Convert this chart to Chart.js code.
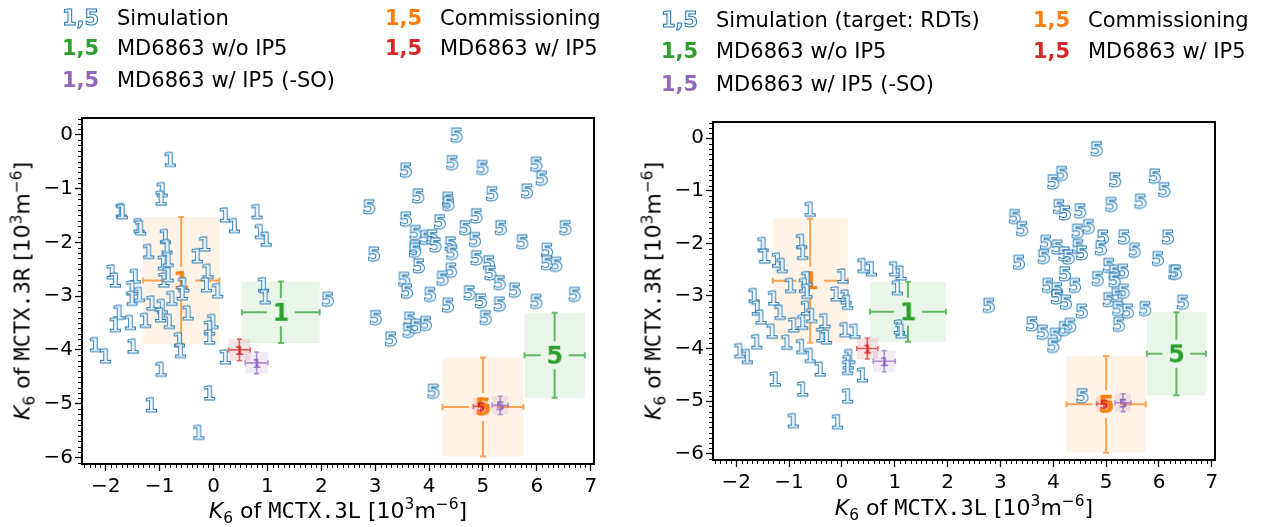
<!DOCTYPE html>
<html>
<head>
<meta charset="utf-8">
<script src="https://cdn.jsdelivr.net/npm/chart.js@4.4.0/dist/chart.umd.min.js"></script>
<style>
body { margin:0; background:#fff; width:1265px; height:527px; overflow:hidden; position:relative; font-family:"DejaVu Sans", sans-serif; color:#000; }
canvas { position:absolute; top:0; }
.item { position:absolute; white-space:nowrap; font-size:21px; line-height:24px; }
.mk { font-weight:bold; display:inline-block; width:55px; }
.sim { color:#f4f8fc; -webkit-text-stroke:1px #1f77b4; }
.xt, .yt { position:absolute; font-size:22px; white-space:nowrap; transform:translate(-50%,-50%); }
.yt { transform:translate(-50%,-50%) rotate(-90deg); }
.mono { font-family:"DejaVu Sans Mono", monospace; }
sub, sup { font-size:70%; line-height:0; }
</style>
</head>
<body>
<canvas id="left" width="632" height="527" style="left:0"></canvas>
<canvas id="right" width="633" height="527" style="left:632px"></canvas>

<!-- legends -->
<div class="item" style="left:62px;top:6px"><span class="mk sim">1,5</span>Simulation</div>
<div class="item" style="left:385px;top:6px"><span class="mk" style="color:#ff7f0e">1,5</span>Commissioning</div>
<div class="item" style="left:62px;top:36px"><span class="mk" style="color:#2ca02c">1,5</span>MD6863 w/o IP5</div>
<div class="item" style="left:385px;top:36px"><span class="mk" style="color:#d62728">1,5</span>MD6863 w/ IP5</div>
<div class="item" style="left:62px;top:68px"><span class="mk" style="color:#9467bd">1,5</span>MD6863 w/ IP5 (-SO)</div>

<div class="item" style="left:661px;top:8px"><span class="mk sim">1,5</span>Simulation (target: RDTs)</div>
<div class="item" style="left:1033px;top:8px"><span class="mk" style="color:#ff7f0e">1,5</span>Commissioning</div>
<div class="item" style="left:661px;top:39px"><span class="mk" style="color:#2ca02c">1,5</span>MD6863 w/o IP5</div>
<div class="item" style="left:1033px;top:39px"><span class="mk" style="color:#d62728">1,5</span>MD6863 w/ IP5</div>
<div class="item" style="left:661px;top:72px"><span class="mk" style="color:#9467bd">1,5</span>MD6863 w/ IP5 (-SO)</div>

<!-- axis titles -->
<div class="xt" style="left:338px;top:510px"><i>K</i><sub>6</sub> of <span class="mono">MCTX.3L</span> [10<sup>3</sup>m<sup>−6</sup>]</div>
<div class="yt" style="left:22px;top:291px"><i>K</i><sub>6</sub> of <span class="mono">MCTX.3R</span> [10<sup>3</sup>m<sup>−6</sup>]</div>
<div class="xt" style="left:964px;top:507px"><i>K</i><sub>6</sub> of <span class="mono">MCTX.3L</span> [10<sup>3</sup>m<sup>−6</sup>]</div>
<div class="yt" style="left:653px;top:291px"><i>K</i><sub>6</sub> of <span class="mono">MCTX.3R</span> [10<sup>3</sup>m<sup>−6</sup>]</div>

<script>
// axis ranges
const xRange = [-2.44, 7.06];
const yRange = [-6.12, 0.31];

// simulation, left panel
const sim1X = [-0.81,-0.96,-0.98,-1.72,-1.70,-1.39,-1.36,0.21,0.38,0.80,0.86,0.97,-1.21,-0.90,-0.87,-0.17,-0.31,-1.89,-1.83,-1.46,-1.52,-1.52,-1.38,-0.94,-0.85,-0.93,-0.85,-0.56,-0.59,-0.78,-0.11,-0.14,0.07,-1.15,-0.96,-0.99,-0.83,-0.48,-1.27,-1.76,-1.83,-1.55,-0.64,-0.62,-0.02,-0.08,-0.08,-2.20,-2.01,-1.50,-0.98,0.21,0.92,0.95,-0.08,-1.16,-0.28];
const sim1Y = [-0.46,-1.02,-1.18,-1.41,-1.43,-1.69,-1.73,-1.49,-1.69,-1.43,-1.80,-1.94,-2.17,-1.89,-2.08,-2.03,-2.25,-2.55,-2.70,-2.63,-2.85,-3.04,-2.97,-2.38,-2.32,-2.70,-2.60,-2.79,-2.94,-3.04,-2.54,-2.79,-2.90,-3.13,-3.19,-3.35,-3.47,-3.31,-3.45,-3.30,-3.53,-3.49,-3.81,-4.01,-3.47,-3.59,-3.76,-3.90,-4.11,-3.93,-4.36,-4.13,-2.79,-3.01,-4.80,-5.02,-5.53];
const sim5X = [4.51,4.43,3.57,4.99,5.99,6.09,5.82,5.17,3.80,4.35,4.36,2.89,3.57,4.20,4.88,4.67,5.33,6.53,3.75,3.94,4.06,4.12,3.74,3.74,4.40,4.43,4.85,5.73,2.98,3.81,4.41,4.25,3.54,3.59,4.02,4.88,5.11,5.14,5.31,6.19,6.19,6.36,5.59,4.75,4.96,5.31,4.35,5.99,6.70,2.12,3.01,3.64,3.62,3.76,3.94,3.29,5.05,4.08];
const sim5Y = [-0.01,-0.52,-0.66,-0.61,-0.55,-0.81,-1.05,-1.10,-1.14,-1.20,-1.28,-1.34,-1.57,-1.62,-1.51,-1.73,-1.73,-1.73,-1.82,-1.91,-1.90,-2.05,-2.10,-2.15,-2.03,-2.19,-1.95,-1.99,-2.22,-2.44,-2.52,-2.67,-2.69,-2.91,-2.97,-2.29,-2.38,-2.57,-2.75,-2.15,-2.38,-2.41,-2.89,-2.94,-3.09,-3.15,-3.17,-3.10,-2.97,-3.06,-3.40,-3.43,-3.64,-3.56,-3.51,-3.80,-3.40,-4.77];

// simulation (target: RDTs), right panel
const rdt1X = [-0.61,-0.77,-0.75,-1.50,-1.47,-1.23,-1.14,-0.98,-0.67,-0.72,-0.67,-0.68,-0.58,0.01,0.39,0.55,0.99,1.11,1.04,-0.12,0.07,0.10,-1.67,-1.61,-1.54,-1.30,-1.18,-1.33,-0.92,-0.75,-0.33,-0.39,-0.30,0.05,0.24,-1.62,-1.94,-1.80,-1.05,-0.77,-0.61,-0.42,0.14,0.11,0.10,0.38,1.08,1.11,-1.27,-0.75,0.10,-0.93,-0.09];
const rdt1Y = [-1.35,-1.96,-2.17,-2.02,-2.24,-2.32,-2.42,-2.80,-2.67,-2.80,-2.91,-3.23,-3.37,-2.62,-2.42,-2.48,-2.48,-2.56,-2.84,-2.96,-3.02,-3.12,-2.99,-3.23,-3.40,-3.04,-3.31,-3.67,-3.55,-3.50,-3.47,-3.74,-3.78,-3.64,-3.67,-3.87,-4.04,-4.15,-3.88,-3.96,-4.13,-4.39,-4.15,-4.26,-4.36,-4.50,-3.59,-3.66,-4.58,-4.77,-4.90,-5.37,-5.39];
const rdt5X = [4.82,4.16,4.00,5.17,5.92,6.10,5.10,5.65,4.11,4.22,4.51,3.27,3.41,4.46,4.67,4.94,5.34,5.54,6.17,3.86,3.82,4.08,4.21,4.29,4.47,4.54,4.90,5.98,3.35,4.22,5.05,5.16,5.32,5.16,4.84,6.29,6.32,3.90,4.07,4.41,4.07,4.24,5.05,5.21,5.33,5.23,5.41,5.74,6.45,4.54,2.78,3.60,3.80,4.04,4.00,4.21,4.32,5.24,4.55];
const rdt5Y = [-0.20,-0.67,-0.83,-0.79,-0.72,-0.98,-1.26,-1.20,-1.30,-1.42,-1.38,-1.49,-1.72,-1.77,-1.68,-1.88,-1.88,-2.13,-1.88,-1.98,-2.25,-2.07,-2.20,-2.26,-2.06,-2.18,-2.09,-2.29,-2.36,-2.58,-2.42,-2.55,-2.53,-2.70,-2.67,-2.55,-2.55,-2.80,-2.88,-2.80,-3.02,-3.12,-3.07,-2.99,-2.91,-3.24,-3.29,-3.24,-3.12,-3.29,-3.18,-3.53,-3.69,-3.75,-3.94,-3.62,-3.56,-3.54,-4.90];

// measurements: [MCTX1, MCTX5]
const commX = [-0.60, 5.00], commY = [-2.71, -5.06], commXErr = [0.71, 0.75], commYErr = [1.18, 0.92];
const woX = [1.25, 6.33], woY = [-3.30, -4.10], woXErr = [0.72, 0.56], woYErr = [0.57, 0.79];
const wX = [0.48, 4.96], wY = [-4.00, -5.05], wXErr = [0.20, 0.14], wYErr = [0.20, 0.15];
const soX = [0.80, 5.32], soY = [-4.24, -5.03], soXErr = [0.21, 0.15], soYErr = [0.20, 0.17];

const C = { blue:'#1f77b4', orange:'#ff7f0e', green:'#2ca02c', red:'#d62728', purple:'#9467bd' };

function glyph(ch, size, bold, fill, stroke, lw) {
  const c = document.createElement('canvas');
  c.width = Math.ceil(size * 1.2); c.height = Math.ceil(size * 1.2);
  const g = c.getContext('2d');
  g.font = (bold ? 'bold ' : '') + size + 'px "DejaVu Sans"';
  g.textAlign = 'center';
  g.textBaseline = 'alphabetic';
  const y = c.height / 2 + size * 0.364;
  g.fillStyle = fill;
  g.fillText(ch, c.width / 2, y);
  if (stroke) { g.strokeStyle = stroke; g.lineWidth = lw; g.lineJoin = 'miter'; g.strokeText(ch, c.width / 2, y); }
  return c;
}
const simGlyph = { '1': glyph('1', 20, true, '#f6f9fc', C.blue, 0.9), '5': glyph('5', 20, true, '#f6f9fc', C.blue, 0.9) };
const big = col => [glyph('1', 24, true, col), glyph('5', 24, true, col)];
const small = col => [glyph('1', 13, true, col), glyph('5', 13, true, col)];

const pts = (xs, ys) => xs.map((x, i) => ({x: x, y: ys[i]}));
const alpha = (hex, a) => { const n = parseInt(hex.slice(1), 16); return `rgba(${n>>16},${(n>>8)&255},${n&255},${a})`; };

// shaded boxes + error bars, drawn under the markers
const errPlugin = {
  id: 'errbox',
  beforeDatasetsDraw(chart) {
    const ctx = chart.ctx, xs = chart.scales.x, ys = chart.scales.y;
    const list = chart.data.datasets.filter(d => d.err);
    ctx.save();
    for (const ds of list) {
      ds.data.forEach((p, i) => {
        const l = xs.getPixelForValue(p.x - ds.err.x[i]), r = xs.getPixelForValue(p.x + ds.err.x[i]);
        const t = ys.getPixelForValue(p.y + ds.err.y[i]), b = ys.getPixelForValue(p.y - ds.err.y[i]);
        ctx.fillStyle = alpha(ds.err.color, ds.err.box);
        ctx.fillRect(l, t, r - l, b - t);
      });
    }
    for (const ds of list) {
      const e = ds.err;
      ctx.strokeStyle = alpha(e.color, 0.7);
      ctx.lineWidth = e.lw;
      ds.data.forEach((p, i) => {
        const cx = xs.getPixelForValue(p.x), cy = ys.getPixelForValue(p.y);
        const l = xs.getPixelForValue(p.x - e.x[i]), r = xs.getPixelForValue(p.x + e.x[i]);
        const t = ys.getPixelForValue(p.y + e.y[i]), b = ys.getPixelForValue(p.y - e.y[i]);
        ctx.beginPath();
        ctx.moveTo(l, cy); ctx.lineTo(cx - e.gap, cy);
        ctx.moveTo(cx + e.gap, cy); ctx.lineTo(r, cy);
        ctx.moveTo(cx, t); ctx.lineTo(cx, cy - e.gap);
        ctx.moveTo(cx, cy + e.gap); ctx.lineTo(cx, b);
        ctx.moveTo(l, cy - e.cap); ctx.lineTo(l, cy + e.cap);
        ctx.moveTo(r, cy - e.cap); ctx.lineTo(r, cy + e.cap);
        ctx.moveTo(cx - e.cap, t); ctx.lineTo(cx + e.cap, t);
        ctx.moveTo(cx - e.cap, b); ctx.lineTo(cx + e.cap, b);
        ctx.stroke();
      });
    }
    ctx.restore();
  }
};

// full frame + minor ticks
const framePlugin = {
  id: 'frame',
  afterDraw(chart) {
    const ctx = chart.ctx, a = chart.chartArea, xs = chart.scales.x, ys = chart.scales.y;
    ctx.save();
    ctx.strokeStyle = '#000';
    ctx.lineWidth = 1;
    ctx.beginPath();
    for (let v = Math.ceil(xs.min * 10); v <= Math.floor(xs.max * 10); v++) {
      if (v % 10 === 0) continue;
      const px = Math.round(xs.getPixelForValue(v / 10)) + 0.5;
      ctx.moveTo(px, a.bottom); ctx.lineTo(px, a.bottom + 4);
    }
    for (let v = Math.ceil(ys.min * 10); v <= Math.floor(ys.max * 10); v++) {
      if (v % 10 === 0) continue;
      const py = Math.round(ys.getPixelForValue(v / 10)) + 0.5;
      ctx.moveTo(a.left, py); ctx.lineTo(a.left - 4, py);
    }
    ctx.stroke();
    ctx.lineWidth = 2;
    ctx.strokeRect(a.left, a.top, a.right - a.left, a.bottom - a.top);
    ctx.restore();
  }
};

// integer major ticks only
const intTicks = s => {
  const out = [];
  for (let v = Math.ceil(s.min); v <= Math.floor(s.max); v++) out.push({ value: v });
  s.ticks = out;
};

function expSets() {
  return [
    { label:'Commissioning', data: pts(commX, commY), pointStyle: big(C.orange), pointRadius: 6, order: 3,
      err: { x: commXErr, y: commYErr, color: C.orange, box: 0.1, lw: 2, gap: 14, cap: 3 } },
    { label:'MD6863 w/o IP5', data: pts(woX, woY), pointStyle: big(C.green), pointRadius: 6, order: 3,
      err: { x: woXErr, y: woYErr, color: C.green, box: 0.11, lw: 2, gap: 14, cap: 3 } },
    { label:'MD6863 w/ IP5', data: pts(wX, wY), pointStyle: small(C.red), pointRadius: 4, order: 0,
      err: { x: wXErr, y: wYErr, color: C.red, box: 0.13, lw: 1.6, gap: 0, cap: 2.5 } },
    { label:'MD6863 w/ IP5 (-SO)', data: pts(soX, soY), pointStyle: small(C.purple), pointRadius: 4, order: 0,
      err: { x: soXErr, y: soYErr, color: C.purple, box: 0.13, lw: 1.6, gap: 0, cap: 2.5 } }
  ];
}

function makePanel(id, label, s1x, s1y, s5x, s5y, pad, yW, xH) {
  new Chart(document.getElementById(id), {
    type: 'scatter',
    data: {
      datasets: [
        { label: label + ' 1', data: pts(s1x, s1y), pointStyle: simGlyph['1'], pointRadius: 5, order: 1 },
        { label: label + ' 5', data: pts(s5x, s5y), pointStyle: simGlyph['5'], pointRadius: 5, order: 1 }
      ].concat(expSets())
    },
    options: {
      responsive: false,
      animation: false,
      devicePixelRatio: 1,
      events: [],
      layout: { padding: pad },
      plugins: { legend: { display: false }, tooltip: { enabled: false } },
      scales: {
        x: {
          type: 'linear', min: xRange[0], max: xRange[1],
          ticks: { color: '#000', padding: 4, font: { family: 'DejaVu Sans', size: 20 },
                   callback: v => String(v).replace('-', '\u2212') },
          afterBuildTicks: intTicks,
          afterFit: s => { s.height = xH; },
          grid: { drawOnChartArea: false, tickLength: 7, tickColor: '#000', tickWidth: 1.3 },
          border: { color: '#000', width: 2 }
        },
        y: {
          type: 'linear', min: yRange[0], max: yRange[1],
          ticks: { color: '#000', padding: 2, font: { family: 'DejaVu Sans', size: 20 },
                   callback: v => String(v).replace('-', '\u2212') },
          afterBuildTicks: intTicks,
          afterFit: s => { s.width = yW; },
          grid: { drawOnChartArea: false, tickLength: 7, tickColor: '#000', tickWidth: 1.3 },
          border: { color: '#000', width: 2 }
        }
      }
    },
    plugins: [errPlugin, framePlugin]
  });
}

makePanel('left', 'Simulation', sim1X, sim1Y, sim5X, sim5Y, { top: 118, right: 38, left: 0, bottom: 0 }, 82, 63);
makePanel('right', 'Simulation (target: RDTs)', rdt1X, rdt1Y, rdt5X, rdt5Y, { top: 122, right: 50, left: 0, bottom: 0 }, 81, 67);
</script>
</body>
</html>
